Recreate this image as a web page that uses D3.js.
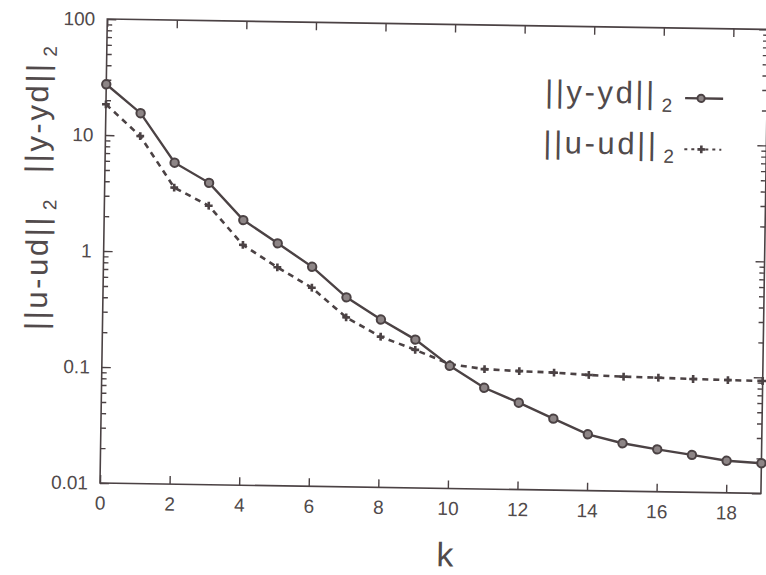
<!DOCTYPE html>
<html>
<head>
<meta charset="utf-8">
<script src="https://cdn.jsdelivr.net/npm/d3@7"></script>
<style>
  html, body { margin: 0; padding: 0; background: #fff; }
  svg { display: block; }
</style>
</head>
<body>
<div id="chart"></div>
<script>
// ─── data ─────────────────────────────────────────────────────────
const ks = [0, 1, 2, 3, 4, 5, 6, 7, 8, 9, 10, 11, 12, 13, 14, 15, 16, 17, 18, 19];

const yErr = [27.4, 15.6, 5.9, 4.0, 1.93, 1.23, 0.78, 0.43, 0.28, 0.19,
              0.114, 0.0746, 0.0561, 0.0413, 0.0306, 0.0259, 0.0232, 0.0210, 0.0189, 0.0182];

const uErr = [18.4, 9.9, 3.6, 2.54, 1.18, 0.764, 0.515, 0.289, 0.199, 0.155,
              0.118, 0.108, 0.105, 0.103, 0.0994, 0.0971, 0.0962, 0.0948, 0.0938, 0.0931];

const xTicks = [0, 2, 4, 6, 8, 10, 12, 14, 16, 18];
const yTicks = [0.01, 0.1, 1, 10, 100];
const yTickLabels = ["0.01", "0.1", "1", "10", "100"];

// ─── look ─────────────────────────────────────────────────────────
const ink     = "#4b4244";
const textInk = "#514a4b";
const font    = "'Liberation Sans', Arial, sans-serif";

const W = 766, H = 575;
const plotW = 661, plotH = 464;
const tilt = 0.9;          // the scan is turned slightly clockwise

const svg = d3.select("#chart")
    .append("svg")
    .attr("width", W)
    .attr("height", H);

// origin at bottom-left corner of the frame, y grows downward (negative = up)
const g = svg.append("g")
    .attr("transform", `translate(100, 483) rotate(${tilt})`);

const x = d3.scaleLinear().domain([0, 19]).range([0, plotW]);
const y = d3.scaleLog().domain([0.01, 100]).range([0, -plotH]);

// ─── frame ────────────────────────────────────────────────────────
g.append("rect")
    .attr("x", 0)
    .attr("y", -plotH)
    .attr("width", plotW)
    .attr("height", plotH)
    .attr("fill", "none")
    .attr("stroke", ink)
    .attr("stroke-width", 1.6);

const styleAxis = sel => {
    sel.select(".domain").remove();
    sel.selectAll(".tick line").attr("stroke", ink).attr("stroke-width", 1.4);
    sel.selectAll(".tick text")
        .attr("fill", textInk)
        .style("font-family", font)
        .style("font-size", "19px");
};

// bottom axis with labels
g.append("g")
    .call(d3.axisBottom(x).tickValues(xTicks).tickSizeInner(-8).tickSizeOuter(0).tickPadding(13))
    .call(styleAxis);

// top axis ticks only
g.append("g")
    .attr("transform", `translate(0, ${-plotH})`)
    .call(d3.axisTop(x).tickValues(xTicks).tickSizeInner(-8).tickSizeOuter(0).tickFormat(""))
    .call(styleAxis);

// left axis: majors with labels, minors without
const minors = y.ticks().filter(v => !yTicks.includes(v));

g.append("g")
    .call(d3.axisLeft(y).tickValues(yTicks).tickSizeInner(-9).tickSizeOuter(0).tickPadding(12)
        .tickFormat((d, i) => yTickLabels[i]))
    .call(styleAxis);

g.append("g")
    .call(d3.axisLeft(y).tickValues(minors).tickSizeInner(-5).tickSizeOuter(0).tickFormat(""))
    .call(styleAxis);

// right axis ticks only
g.append("g")
    .attr("transform", `translate(${plotW}, 0)`)
    .call(d3.axisRight(y).tickValues(yTicks).tickSizeInner(-9).tickSizeOuter(0).tickFormat(""))
    .call(styleAxis);

g.append("g")
    .attr("transform", `translate(${plotW}, 0)`)
    .call(d3.axisRight(y).tickValues(minors).tickSizeInner(-5).tickSizeOuter(0).tickFormat(""))
    .call(styleAxis);

// ─── series ───────────────────────────────────────────────────────
const line = d3.line()
    .x(d => x(d[0]))
    .y(d => y(d[1]));

const uPts = ks.map((k, i) => [k, uErr[i]]);
const yPts = ks.map((k, i) => [k, yErr[i]]);

const cross = d3.symbol().type(d3.symbolCross).size(34);

// ||u-ud||2 : dotted with small crosses
g.append("path")
    .datum(uPts)
    .attr("d", line)
    .attr("fill", "none")
    .attr("stroke", ink)
    .attr("stroke-width", 2.6)
    .attr("stroke-dasharray", "6,5");

g.selectAll("path.u-mark")
    .data(uPts)
    .join("path")
    .attr("class", "u-mark")
    .attr("d", cross)
    .attr("transform", d => `translate(${x(d[0])}, ${y(d[1])})`)
    .attr("fill", ink);

// ||y-yd||2 : solid with ringed dots
g.append("path")
    .datum(yPts)
    .attr("d", line)
    .attr("fill", "none")
    .attr("stroke", ink)
    .attr("stroke-width", 2.4);

g.selectAll("circle.y-mark")
    .data(yPts)
    .join("circle")
    .attr("class", "y-mark")
    .attr("cx", d => x(d[0]))
    .attr("cy", d => y(d[1]))
    .attr("r", 4.2)
    .attr("fill", "#8d8586")
    .attr("stroke", ink)
    .attr("stroke-width", 2);

// ─── labels ───────────────────────────────────────────────────────
const normText = (parent, label, tx, ty, rot) => {
    const t = parent.append("text")
        .attr("transform", `translate(${tx}, ${ty}) rotate(${rot})`)
        .attr("fill", textInk)
        .style("font-family", font)
        .style("font-size", "31px")
        .style("letter-spacing", "2.6px");
    t.append("tspan").text(label);
    t.append("tspan")
        .attr("dx", 5)
        .attr("dy", 8)
        .style("font-size", "19px")
        .text("2");
    return t;
};

// y axis title, read bottom to top
normText(g, "||u-ud||", -56, -152, -90);
normText(g, "||y-yd||", -58, -309, -90);

// x axis title
g.append("text")
    .attr("x", 346)
    .attr("y", 78)
    .attr("text-anchor", "middle")
    .attr("fill", textInk)
    .style("font-family", font)
    .style("font-size", "34px")
    .text("k");

// ─── legend ───────────────────────────────────────────────────────
normText(g, "||y-yd||", 439, -388, 0);
normText(g, "||u-ud||", 438, -337, 0);

g.append("line")
    .attr("x1", 579).attr("x2", 617)
    .attr("y1", -394).attr("y2", -394)
    .attr("stroke", ink)
    .attr("stroke-width", 2.4);

g.append("circle")
    .attr("cx", 595).attr("cy", -394)
    .attr("r", 3.6)
    .attr("fill", "#8d8586")
    .attr("stroke", ink)
    .attr("stroke-width", 2);

g.append("line")
    .attr("x1", 579).attr("x2", 616)
    .attr("y1", -343).attr("y2", -343)
    .attr("stroke", ink)
    .attr("stroke-width", 2)
    .attr("stroke-dasharray", "3,4");

g.append("path")
    .attr("d", cross)
    .attr("transform", "translate(596, -343)")
    .attr("fill", ink);
</script>
</body>
</html>
